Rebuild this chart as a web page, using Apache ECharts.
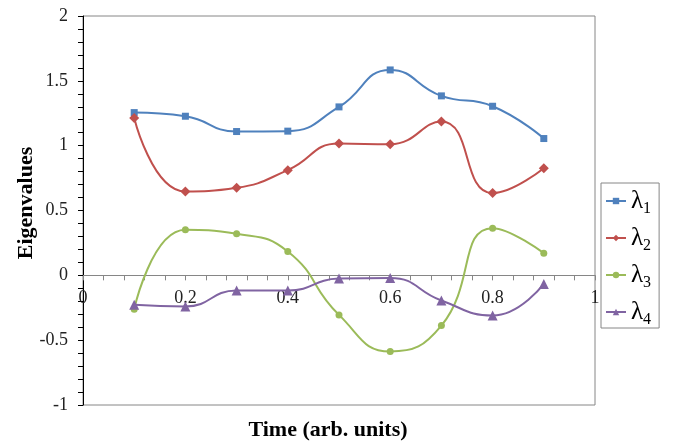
<!DOCTYPE html>
<html>
<head>
<meta charset="utf-8">
<script src="https://cdn.jsdelivr.net/npm/echarts@6/dist/echarts.min.js"></script>
<style>
  html, body { margin: 0; padding: 0; background: #fff; }
  #main { width: 676px; height: 444px; }
</style>
</head>
<body>
<div id="main"></div>
<script>
// time points (x) and eigenvalue series
var times = [0.1, 0.2, 0.3, 0.4, 0.5, 0.6, 0.7, 0.8, 0.9];
var lambda1 = [1.255, 1.227, 1.109, 1.112, 1.299, 1.584, 1.384, 1.304, 1.055];
var lambda2 = [1.214, 0.646, 0.675, 0.811, 1.016, 1.011, 1.186, 0.634, 0.826];
var lambda3 = [-0.261, 0.351, 0.320, 0.184, -0.305, -0.587, -0.387, 0.364, 0.171];
var lambda4 = [-0.227, -0.240, -0.117, -0.117, -0.025, -0.020, -0.194, -0.310, -0.066];
var seriesNames = ['λ1', 'λ2', 'λ3', 'λ4'];
var xTicks = [0, 0.2, 0.4, 0.6, 0.8, 1];

var serif = 'Liberation Serif';
var plotH = 389;
var yMin = -1, yMax = 2;
// x axis sits on y = 0, so shift it up from the grid bottom
var zeroShift = plotH * (0 - yMin) / (yMax - yMin);

function pairs(ys) {
    var out = [];
    for (var i = 0; i < times.length; i++) {
        out.push([times[i], ys[i]]);
    }
    return out;
}

function mkSeries(name, ys, color, symbol, size) {
    return {
        name: name,
        type: 'line',
        smooth: 0.5,
        data: pairs(ys),
        symbol: symbol,
        symbolSize: size,
        lineStyle: { color: color, width: 2 },
        itemStyle: { color: color },
        z: 3
    };
}

var chart = echarts.init(document.getElementById('main'), null, { renderer: 'canvas' });

chart.setOption({
    animation: false,
    backgroundColor: '#fff',
    grid: {
        left: 83, top: 16, width: 512, height: plotH,
        outerBoundsMode: 'none',
        containLabel: false,
        show: true, borderColor: '#868686', borderWidth: 1
    },
    legend: {
        orient: 'vertical',
        left: 601, top: 183,
        padding: [2, 8, 0, 4],
        itemGap: 5,
        itemWidth: 20, itemHeight: 8,
        borderColor: '#868686', borderWidth: 1,
        backgroundColor: '#fff',
        data: seriesNames,
        formatter: function (name) {
            return '{l|λ}{s|' + name.slice(1) + '}';
        },
        textStyle: {
            rich: {
                l: { fontFamily: serif, fontSize: 25, lineHeight: 30, color: '#000' },
                s: { fontFamily: serif, fontSize: 16, lineHeight: 14, padding: [16, 0, 0, 0], color: '#000' }
            }
        }
    },
    xAxis: {
        type: 'value',
        position: 'bottom',
        offset: -zeroShift,
        min: 0, max: 1, interval: 0.2,
        name: 'Time (arb. units)',
        nameLocation: 'middle',
        nameGap: 144,
        nameMoveOverlap: false,
        nameTextStyle: { fontFamily: serif, fontSize: 22, fontWeight: 'bold', color: '#000', padding: [0, 22, 0, 0] },
        axisLine: { onZero: false, lineStyle: { color: '#868686', width: 1 } },
        axisTick: { show: true, length: 5, lineStyle: { color: '#868686' } },
        minorTick: { show: true, splitNumber: 5, length: 5, lineStyle: { color: '#868686' } },
        axisLabel: {
            fontFamily: serif, fontSize: 18, color: '#222', margin: 14,
            formatter: function (v) { return xTicks.indexOf(Math.round(v * 10) / 10) >= 0 ? String(Math.round(v * 10) / 10) : ''; }
        },
        splitLine: { show: false }
    },
    yAxis: {
        type: 'value',
        min: yMin, max: yMax, interval: 0.5,
        name: 'Eigenvalues',
        nameLocation: 'middle',
        nameGap: 46,
        nameMoveOverlap: false,
        nameTextStyle: { fontFamily: serif, fontSize: 22, fontWeight: 'bold', color: '#000', padding: [0, 0, 0, 15] },
        axisLine: { show: true, lineStyle: { color: '#000', width: 1 } },
        axisTick: { show: true, length: 5, lineStyle: { color: '#000' } },
        minorTick: { show: true, splitNumber: 5, length: 5, lineStyle: { color: '#000' } },
        axisLabel: { fontFamily: serif, fontSize: 18, color: '#222', margin: 15 },
        splitLine: { show: false }
    },
    series: [
        mkSeries(seriesNames[0], lambda1, '#4F81BD', 'rect', 7),
        mkSeries(seriesNames[1], lambda2, '#C0504D', 'diamond', 10),
        mkSeries(seriesNames[2], lambda3, '#9BBB59', 'circle', 7),
        mkSeries(seriesNames[3], lambda4, '#8064A2', 'triangle', 10)
    ]
});
</script>
</body>
</html>
